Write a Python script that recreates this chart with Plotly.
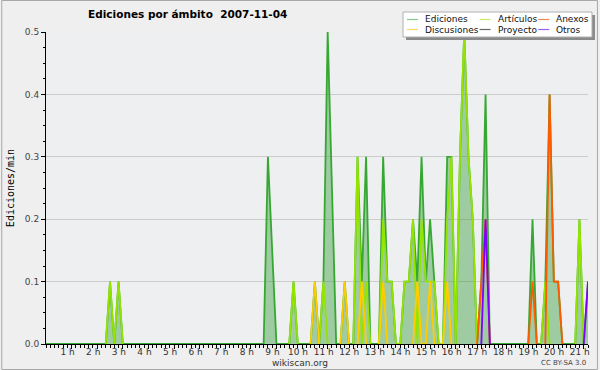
import plotly.graph_objects as go

# ---- data (10-minute slots with activity; all other slots are 0) ----
slot_times = ["02:30", "02:50", "08:40", "08:50", "09:40", "10:30", "10:50", "11:00", "11:10", "11:40",
              "12:10", "12:20", "12:30", "13:10", "13:20", "13:30", "14:00", "14:10", "14:20", "14:30",
              "14:40", "14:50", "15:00", "15:10", "15:40", "15:50", "16:10", "16:20", "16:30", "16:40",
              "17:00", "17:10", "19:00", "19:30", "19:40", "19:50", "20:00", "20:50", "21:10"]
ediciones = [0.1, 0.1, 0.3, 0.15, 0.1, 0.1, 0.1, 0.5, 0.25, 0.1,
             0.3, 0.1, 0.3, 0.3, 0.1, 0.1, 0.1, 0.1, 0.2, 0.1,
             0.3, 0.1, 0.2, 0.1, 0.3, 0.3, 0.3, 0.5, 0.3, 0.2,
             0.1, 0.4, 0.2, 0.1, 0.4, 0.1, 0.1, 0.2, 0.1]
articulos = [0.1, 0.1, 0, 0, 0.1, 0, 0.1, 0, 0, 0,
             0.3, 0, 0.1, 0.2, 0.1, 0.1, 0.1, 0.1, 0.2, 0,
             0.2, 0.1, 0.1, 0.1, 0.2, 0.3, 0.3, 0.5, 0.3, 0.2,
             0, 0, 0, 0.1, 0, 0, 0, 0.2, 0]
discusiones = [0, 0, 0, 0, 0, 0.1, 0, 0, 0, 0.1,
               0, 0.1, 0, 0.1, 0, 0, 0, 0, 0, 0.1,
               0, 0, 0.1, 0, 0.1, 0, 0, 0, 0, 0,
               0, 0, 0, 0, 0, 0, 0, 0, 0]
anexos = [0, 0, 0, 0, 0, 0, 0, 0, 0, 0,
          0, 0, 0, 0, 0, 0, 0, 0, 0, 0,
          0, 0, 0, 0, 0, 0, 0, 0, 0, 0,
          0.1, 0.2, 0.1, 0, 0.4, 0.1, 0.1, 0, 0]
proyecto = [0] * len(slot_times)
otros = [0, 0, 0, 0, 0, 0, 0, 0, 0, 0,
         0, 0, 0, 0, 0, 0, 0, 0, 0, 0,
         0, 0, 0, 0, 0, 0, 0, 0, 0, 0,
         0, 0.2, 0, 0, 0, 0, 0, 0, 0.1]
end_time = "21:10"

series_names = ["Ediciones", "Artículos", "Anexos", "Discusiones", "Proyecto", "Otros"]
series_colors = {"Ediciones": "#36a832", "Artículos": "#95e400", "Anexos": "#ff5a00",
                 "Discusiones": "#ffcc00", "Proyecto": "#555555", "Otros": "#8000ff"}
legend_colors = {"Ediciones": "#86cc86", "Artículos": "#c8ec70", "Anexos": "#f08a5a",
                 "Discusiones": "#f8d860", "Proyecto": "#666666", "Otros": "#9a60f0"}
hour_labels = [f"{h} h" for h in range(1, 22)]
title_text = "Ediciones por ámbito\u00a0\u00a02007-11-04"
y_title = "Ediciones/min"


def to_slot(t):
    hh, mm = t.split(":")
    return (int(hh) * 60 + int(mm)) // 10


n_slots = to_slot(end_time) + 1
x_hours = [k / 6 for k in range(n_slots)]


def full(values, mask_zero_runs=False):
    arr = [0.0] * n_slots
    for t, v in zip(slot_times, values):
        arr[to_slot(t)] = v
    if mask_zero_runs:
        out = []
        for i, v in enumerate(arr):
            left = arr[i - 1] if i > 0 else 0
            right = arr[i + 1] if i < n_slots - 1 else 0
            out.append(None if (v == 0 and left == 0 and right == 0) else v)
        return out
    return arr


fig = go.Figure()
fig.add_trace(go.Scatter(x=x_hours, y=full(ediciones), mode="lines", name="Ediciones",
                         line=dict(color=series_colors["Ediciones"], width=1.8),
                         fill="tozeroy", fillcolor="rgba(51,153,51,0.42)", showlegend=False))
for name, vals in [("Artículos", articulos), ("Discusiones", discusiones), ("Anexos", anexos),
                   ("Proyecto", proyecto), ("Otros", otros)]:
    fig.add_trace(go.Scatter(x=x_hours, y=full(vals, True), mode="lines", name=name,
                             line=dict(color=series_colors[name], width=1.8),
                             connectgaps=False, showlegend=False))

L, R, T, B = 45, 10, 32, 26
W, H = 600, 370
PW, PH = W - L - R, H - T - B


def px(x):
    return (x - L) / PW


def py(y):
    return (H - B - y) / PH


shapes = []
annotations = []
# outer border
shapes.append(dict(type="rect", xref="paper", yref="paper", x0=px(0.5), x1=px(W - 0.5),
                   y0=py(H - 0.5), y1=py(0.5), line=dict(color="#a8a8a8", width=1),
                   fillcolor="rgba(0,0,0,0)", layer="above"))
# legend box with shadow
shapes.append(dict(type="rect", xref="paper", yref="paper", x0=px(407), x1=px(597),
                   y0=py(40), y1=py(15), line=dict(width=0), fillcolor="#8a8a8a", layer="above"))
shapes.append(dict(type="rect", xref="paper", yref="paper", x0=px(404), x1=px(594),
                   y0=py(37), y1=py(12), line=dict(color="#b0b0b0", width=1),
                   fillcolor="#ffffff", layer="above"))
cols = [(408, 424), (481, 497), (540, 556)]
rows = [19.5, 29.5]
for i, name in enumerate(series_names):
    r, c = divmod(i, 3)
    lx, tx = cols[c]
    yy = rows[r]
    shapes.append(dict(type="line", xref="paper", yref="paper", x0=px(lx), x1=px(lx + 11),
                       y0=py(yy), y1=py(yy), line=dict(color=legend_colors[name], width=1.2),
                       layer="above"))
    annotations.append(dict(text=name, xref="paper", yref="paper", x=px(tx), y=py(yy),
                            xanchor="left", yanchor="middle", showarrow=False,
                            font=dict(size=9, color="#111111", family="DejaVu Sans")))

annotations.append(dict(text="wikiscan.org", xref="paper", yref="paper", x=px(300), y=py(362.5),
                        xanchor="center", yanchor="middle", showarrow=False,
                        font=dict(size=9, color="#333333", family="DejaVu Sans")))
annotations.append(dict(text="CC BY-SA 3.0", xref="paper", yref="paper", x=px(590), y=py(362.5),
                        xanchor="right", yanchor="middle", showarrow=False,
                        font=dict(size=7, color="#444444", family="DejaVu Sans")))

fig.update_layout(
    width=W, height=H,
    margin=dict(l=L, r=R, t=T, b=B, pad=0),
    paper_bgcolor="#efefef", plot_bgcolor="#edeff1",
    font=dict(family="DejaVu Sans", size=9, color="#333333"),
    title=dict(text=title_text, x=px(187.5), xref="paper", xanchor="center",
               y=1 - 14 / H, yanchor="middle",
               font=dict(family="DejaVu Sans", size=10.5, color="#000000", weight="bold")),
    shapes=shapes, annotations=annotations, showlegend=False,
)
fig.update_xaxes(range=[0, x_hours[-1]], tickmode="array", tickvals=list(range(1, 22)),
                 ticktext=hour_labels, ticks="outside", ticklen=4, tickcolor="#000000",
                 showline=True, linecolor="#000000", linewidth=1, showgrid=False, zeroline=False,
                 ticklabelshift=-4, ticklabelstandoff=-5,
                 tickfont=dict(size=9, color="#333333"),
                 minor=dict(dtick=1 / 6, tick0=0, ticks="outside", ticklen=3, tickcolor="#000000",
                            showgrid=False))
fig.update_yaxes(range=[0, 0.5], tickmode="array", tickvals=[0, 0.1, 0.2, 0.3, 0.4, 0.5],
                 ticktext=["0.0", "0.1", "0.2", "0.3", "0.4", "0.5"], ticks="outside", ticklen=4,
                 tickcolor="#000000", showline=True, linecolor="#000000", linewidth=1,
                 showgrid=True, gridcolor="#cccccc", gridwidth=1, zeroline=False,
                 tickfont=dict(size=9, color="#444444"),
                 title=dict(text=y_title, standoff=8,
                            font=dict(family="DejaVu Sans Mono", size=10, color="#000000")),
                 minor=dict(dtick=0.025, tick0=0, ticks="outside", ticklen=2, tickcolor="#000000",
                            showgrid=False))

fig.write_html("out.html", post_script="document.body.style.margin='0';",
               config={"displayModeBar": False})
